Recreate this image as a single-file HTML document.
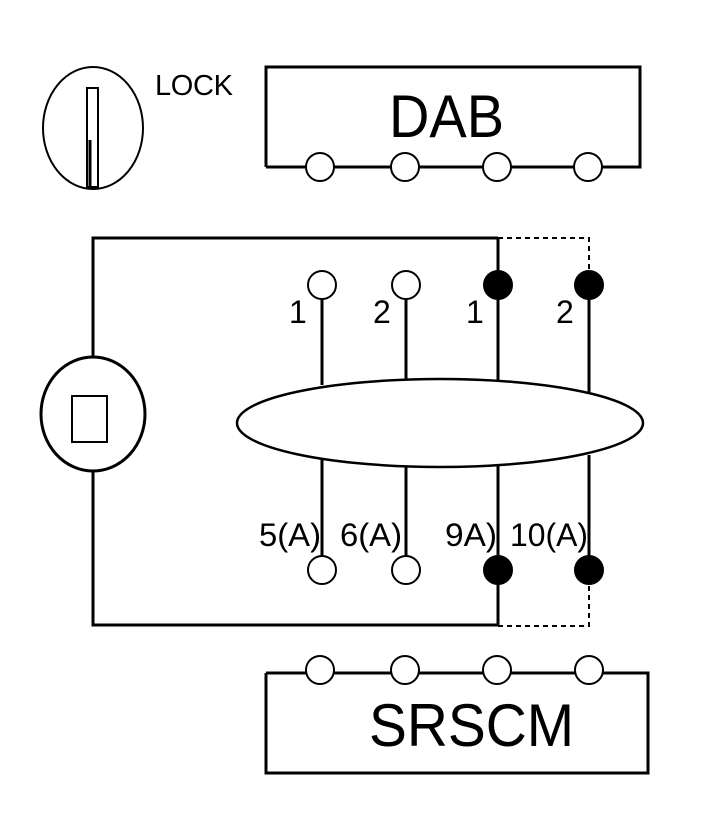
<!DOCTYPE html>
<html><head><style>html,body{margin:0;padding:0;background:#fff;}svg{display:block;}</style></head>
<body>
<svg width="704" height="822" viewBox="0 0 704 822" xmlns="http://www.w3.org/2000/svg" font-family="Liberation Sans, Arial, sans-serif" fill="none" stroke="#000">
<!-- lock -->
<ellipse cx="93" cy="128" rx="50" ry="61" stroke-width="2"/>
<polygon points="87,88 98,88 98,187 87,187" stroke-width="2"/>
<line x1="90" y1="140" x2="90" y2="186" stroke-width="3"/>
<text x="155" y="95" font-size="29" fill="#000" stroke="none" textLength="78">LOCK</text>
<!-- DAB -->
<polyline points="266,167 266,67 640,67 640,167 266,167" stroke-width="3"/>
<text x="389" y="137" font-size="60" fill="#000" stroke="none" textLength="115" lengthAdjust="spacingAndGlyphs">DAB</text>
<g stroke-width="2" fill="#fff">
<circle cx="320" cy="167" r="14"/><circle cx="405" cy="167" r="14"/><circle cx="497" cy="167" r="14"/><circle cx="588" cy="167" r="14"/>
</g>
<!-- SRSCM -->
<polyline points="266,673 266,773 648,773 648,673 266,673" stroke-width="3"/>
<text x="369" y="746" font-size="60" fill="#000" stroke="none" textLength="205" lengthAdjust="spacingAndGlyphs">SRSCM</text>
<g stroke-width="2" fill="#fff">
<circle cx="320" cy="670" r="14"/><circle cx="405" cy="670" r="14"/><circle cx="497" cy="670" r="14"/><circle cx="589" cy="670" r="14"/>
</g>
<!-- main loop -->
<polyline points="498,238 93,238 93,357" stroke-width="3"/>
<polyline points="93,472 93,625 498,625" stroke-width="3"/>
<polyline points="498,238 589,238 589,285" stroke-width="2" stroke-dasharray="5,4"/>
<polyline points="498,626 589,626 589,570" stroke-width="2" stroke-dasharray="5,4"/>
<ellipse cx="93" cy="414" rx="52" ry="57" stroke-width="3"/>
<rect x="72" y="396" width="35" height="46" stroke-width="2"/>
<!-- pins -->
<g stroke-width="3">
<line x1="322" y1="299" x2="322" y2="385"/><line x1="406" y1="299" x2="406" y2="380"/>
<line x1="498" y1="238" x2="498" y2="380"/><line x1="589" y1="285" x2="589" y2="392"/>
<line x1="322" y1="460" x2="322" y2="556"/><line x1="406" y1="466" x2="406" y2="556"/>
<line x1="498" y1="466" x2="498" y2="625"/><line x1="589" y1="455" x2="589" y2="570"/>
</g>
<ellipse cx="440" cy="423" rx="203" ry="44" stroke-width="2.5" fill="#fff"/>
<g stroke-width="2">
<circle cx="322" cy="285" r="14" fill="#fff"/><circle cx="406" cy="285" r="14" fill="#fff"/>
<circle cx="498" cy="285" r="14" fill="#000"/><circle cx="589" cy="285" r="14" fill="#000"/>
<circle cx="322" cy="570" r="14" fill="#fff"/><circle cx="406" cy="570" r="14" fill="#fff"/>
<circle cx="498" cy="570" r="14" fill="#000"/><circle cx="589" cy="570" r="14" fill="#000"/>
</g>
<g fill="#000" stroke="none" font-size="32">
<text x="289" y="323">1</text><text x="373" y="323">2</text><text x="466" y="323">1</text><text x="556" y="323">2</text>
<text x="259" y="546" textLength="62" lengthAdjust="spacingAndGlyphs">5(A)</text>
<text x="340" y="546" textLength="62" lengthAdjust="spacingAndGlyphs">6(A)</text>
<text x="445" y="546" textLength="52" lengthAdjust="spacingAndGlyphs">9A)</text>
<text x="510" y="546" textLength="78" lengthAdjust="spacingAndGlyphs">10(A)</text>
</g>
</svg>
</body></html>
